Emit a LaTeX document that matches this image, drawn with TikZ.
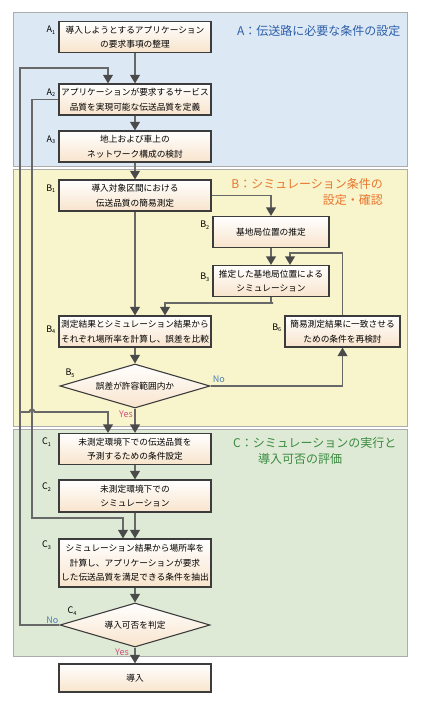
\documentclass[tikz,border=0pt]{standalone}
\usepackage{fontspec}
\setmainfont{Noto Sans CJK JP}
\usepackage{xcolor}
\usetikzlibrary{shapes.geometric,arrows.meta}

\definecolor{panelA}{HTML}{DDE8F5}
\definecolor{panelB}{HTML}{F8F4CC}
\definecolor{panelC}{HTML}{DEEAD6}
\definecolor{boxpeach}{HTML}{F8E4CC}
\definecolor{boxline}{HTML}{3C3C3C}
\definecolor{flowgray}{HTML}{686868}
\definecolor{tipgray}{HTML}{4A4A4A}
\definecolor{ttlblue}{HTML}{2B5EA8}
\definecolor{ttlorange}{HTML}{E8762C}
\definecolor{ttlgreen}{HTML}{3A8A3E}
\definecolor{noblue}{HTML}{4A80B4}
\definecolor{yespink}{HTML}{D4507E}

\newcommand{\steplab}[2]{#1\raisebox{-0.35ex}{\fontsize{5.5}{6}\selectfont #2}}

\begin{document}
\begin{tikzpicture}[x=1pt,y=-1pt,
  panel/.style={draw=gray!65,line width=0.8pt},
  box/.style={draw=boxline,line width=1.1pt,top color=white,bottom color=boxpeach,
    minimum width=152pt,minimum height=31pt,inner sep=1pt,align=center,
    font=\fontsize{8.7}{14.5}\selectfont},
  sbox/.style={box,minimum width=116pt},
  decide/.style={diamond,draw=boxline,line width=1.1pt,top color=white,bottom color=boxpeach,
    minimum width=150pt,minimum height=44pt,inner sep=0pt,aspect=3.4,
    font=\fontsize{8.7}{14.5}\selectfont},
  lab/.style={font=\fontsize{9}{10}\selectfont,inner sep=0pt},
  ttl/.style={font=\fontsize{12}{16}\selectfont,inner sep=0pt},
  yn/.style={font=\fontsize{9}{10}\selectfont,inner sep=0pt},
  flow/.style={draw=flowgray,line width=1.9pt,-{Triangle[width=9.5pt,length=8.5pt,color=tipgray]}}]
\useasboundingbox (0,0) rectangle (423,704);

% panels
\draw[panel,fill=panelA] (13,12) rectangle (407,166);
\draw[panel,fill=panelB] (13,169) rectangle (407,426);
\draw[panel,fill=panelC] (13,429) rectangle (407,656);

\node[ttl,text=ttlblue,anchor=west] (ttla) at (237,31) {A：伝送路に必要な条件の設定};
\node[ttl,text=ttlorange,anchor=east,align=right] (ttlb) at (383,192) {B：シミュレーション条件の\\設定・確認};
\node[ttl,text=ttlgreen,anchor=west,align=left] (ttlc) at (233,451) {C：シミュレーションの実行と\\\hspace*{25pt}導入可否の評価};

% steps
\node[box] (a1) at (135,37) {導入しようとするアプリケーション\\の要求事項の整理};
\node[box] (a2) at (135,99.5) {アプリケーションが要求するサービス\\品質を実現可能な伝送品質を定義};
\node[box] (a3) at (135,146.5) {地上および車上の\\ネットワーク構成の検討};
\node[box] (b1) at (135,195.5) {導入対象区間における\\伝送品質の簡易測定};
\node[sbox] (b2) at (271,232) {基地局位置の推定};
\node[sbox] (b3) at (271,281) {推定した基地局位置による\\シミュレーション};
\node[box] (b4) at (135,331.5) {測定結果とシミュレーション結果から\\それぞれ場所率を計算し、誤差を比較};
\node[box,minimum width=115pt] (b6) at (342.5,331.5) {簡易測定結果に一致させる\\ための条件を再検討};
\node[decide] (b5) at (135,386) {誤差が許容範囲内か};
\node[box] (c1) at (135,449) {未測定環境下での伝送品質を\\予測するための条件設定};
\node[box,minimum height=32pt] (c2) at (135,496) {未測定環境下での\\シミュレーション};
\node[box,minimum height=48pt] (c3) at (135,563) {シミュレーション結果から場所率を\\計算し、アプリケーションが要求\\した伝送品質を満足できる条件を抽出};
\node[decide] (c4) at (135,625) {導入可否を判定};
\node[box,minimum height=28pt] (go) at (135,678) {導入};

% step labels
\node[lab,anchor=north east] (la1) at ([xshift=-3pt,yshift=-5pt]a1.north west) {\steplab{A}{1}};
\node[lab,anchor=north east] (la2) at ([xshift=-3pt,yshift=-5pt]a2.north west) {\steplab{A}{2}};
\node[lab,anchor=north east] (la3) at ([xshift=-3pt,yshift=-5pt]a3.north west) {\steplab{A}{3}};
\node[lab,anchor=north east] (lb1) at ([xshift=-3pt,yshift=-5pt]b1.north west) {\steplab{B}{1}};
\node[lab,anchor=north east] (lb2) at ([xshift=-3pt,yshift=-5pt]b2.north west) {\steplab{B}{2}};
\node[lab,anchor=north east] (lb3) at ([xshift=-3pt,yshift=-8pt]b3.north west) {\steplab{B}{3}};
\node[lab,anchor=north east] (lb4) at ([xshift=-3pt,yshift=-10pt]b4.north west) {\steplab{B}{4}};
\node[lab,anchor=north east] (lb6) at ([xshift=-3pt,yshift=-8pt]b6.north west) {\steplab{B}{6}};
\node[lab] (lb5) at (70,373) {\steplab{B}{5}};
\node[lab] (lc1) at ([xshift=-12pt,yshift=-9pt]c1.north west) {\steplab{C}{1}};
\node[lab] (lc2) at ([xshift=-12pt,yshift=-8pt]c2.north west) {\steplab{C}{2}};
\node[lab] (lc3) at ([xshift=-12pt,yshift=-7pt]c3.north west) {\steplab{C}{3}};
\node[lab] (lc4) at (72,611) {\steplab{C}{4}};

% yes / no
\node[yn,text=noblue,anchor=south west] (nob) at ([xshift=2pt,yshift=3pt]b5.east) {No};
\node[yn,text=yespink,anchor=east] (yesb) at ([xshift=-2pt,yshift=-6pt]b5.south) {Yes};
\node[yn,text=noblue,anchor=south east] (noc) at ([xshift=-1pt,yshift=1pt]c4.west) {No};
\node[yn,text=yespink,anchor=east] (yesc) at ([xshift=-6pt,yshift=-5pt]c4.south) {Yes};

% helper points
\coordinate (outer) at (20,68);
\coordinate (branch) at (20,412);
\coordinate (inner) at (32,518);
\coordinate (loop) at (345,253);
\coordinate (merge) at (273,303);

% connectors
\draw[flow] (a1) -- (a2);
\draw[flow] (a2) -- (a3);
\draw[flow] (a3) -- (b1);
\draw[flow] (b1.east) -| (b2.north);
\draw[flow] (b2) -- (b3);
\draw[flow] (b1) -- (b4);
\draw[flow] (b3.south) |- (merge) -| ([xshift=30pt]b4.north);
\draw[flow] (b4) -- (b5);
\draw[flow] (b5.east) -| (b6.south);
\draw[flow] (b6.north) -- (b6.north |- loop) -| ([xshift=19pt]b3.north);
\draw[flow] (b5) -- (c1);
\draw[flow] (c1) -- (c2);
\draw[flow] (c2) -- (c3);
\draw[flow] (c3) -- (c4);
\draw[flow] (c4) -- (go);
\draw[flow] (c4.west) -| (outer) -| ([xshift=-27pt]a2.north);
\draw[flow] (branch) -- ++(9.5,0) arc[start angle=180,end angle=360,radius=2.5] -| ([xshift=-27pt]c1.north);
\draw[flow] (a2.west) -| (inner) -| ([xshift=-12pt]c3.north);
\end{tikzpicture}
\end{document}
